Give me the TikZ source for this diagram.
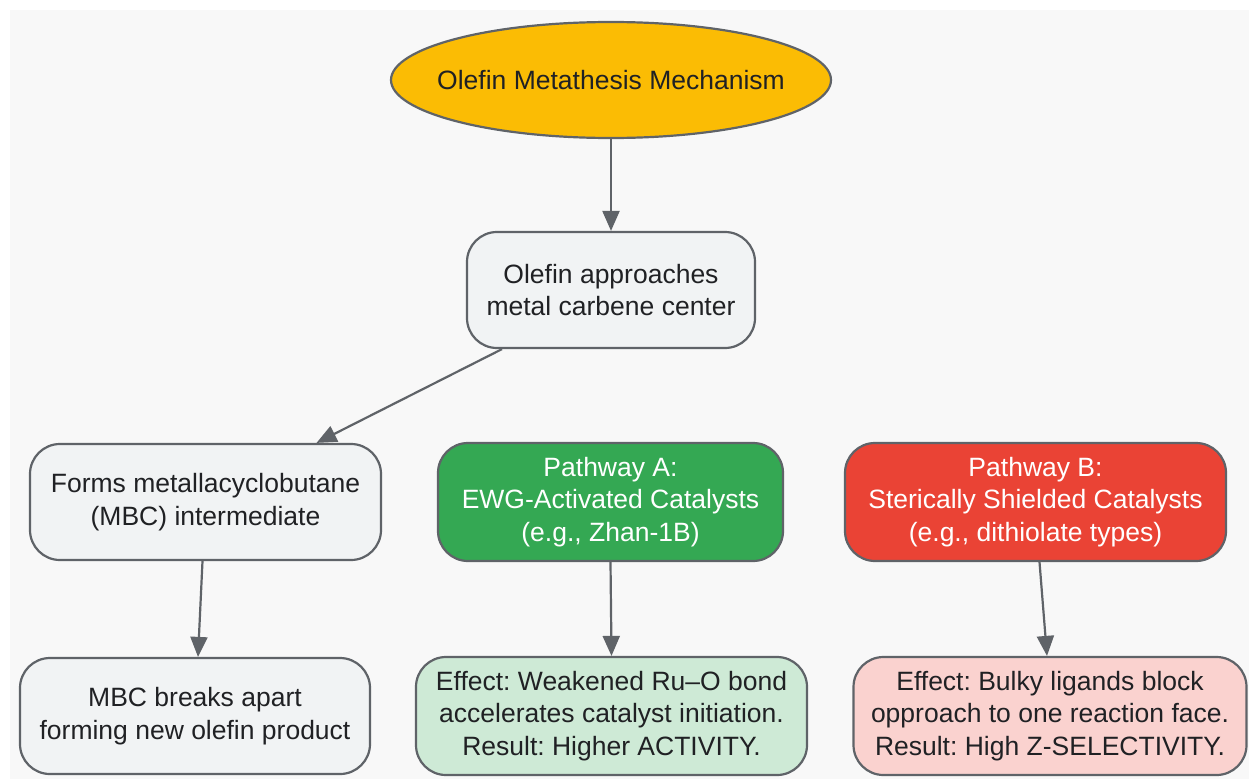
\documentclass[tikz,border=0pt]{standalone}
\usepackage{fontspec}
\setmainfont{Liberation Sans}
\usetikzlibrary{shapes.geometric,arrows.meta,calc}
\definecolor{edgec}{HTML}{5F6368}
\definecolor{txtc}{HTML}{202124}
\definecolor{bgc}{HTML}{F8F8F8}
\definecolor{yelc}{HTML}{FBBC04}
\definecolor{greyfill}{HTML}{F1F3F4}
\definecolor{greenc}{HTML}{34A853}
\definecolor{redc}{HTML}{EA4335}
\definecolor{lgreen}{HTML}{CEEAD6}
\definecolor{lpink}{HTML}{FAD2CF}
\frenchspacing
\begin{document}
\begin{tikzpicture}[x=1pt,y=-1pt,
  box/.style={draw=edgec, line width=2.2pt, rounded corners=30pt, align=center,
    font=\fontsize{26.5}{32.5}\selectfont, text=txtc, inner sep=0pt},
  arr/.style={draw=edgec, line width=2.2pt, -{Triangle[length=20pt,width=17pt]}}]
\useasboundingbox (0,0) rectangle (1249,779);
\fill[white] (0,0) rectangle (1249,779);
\fill[bgc] (10,10) rectangle (1249,779);

\node[ellipse, draw=edgec, fill=yelc, line width=2.2pt, minimum width=440pt, minimum height=116pt,
  inner xsep=-30pt, inner ysep=0pt, text=txtc, font=\fontsize{26.5}{32}\selectfont] (top) at (611,80) {Olefin Metathesis Mechanism};

\node[box, fill=greyfill, minimum width=288pt, minimum height=116pt] (b2) at (611,290)
  {Olefin approaches\\metal carbene center};

\node[box, fill=greyfill, minimum width=351pt, minimum height=116pt] (b3) at (205.5,502)
  {Forms metallacyclobutane\\(MBC) intermediate};

\node[box, fill=greenc, text=white, minimum width=345pt, minimum height=118pt] (b4) at (610.5,502)
  {Pathway A:\\EWG-Activated Catalysts\\(e.g., Zhan-1B)};

\node[box, fill=redc, text=white, minimum width=381pt, minimum height=118pt] (b5) at (1035.5,502)
  {Pathway B:\\Sterically Shielded Catalysts\\(e.g., dithiolate types)};

\node[box, fill=greyfill, minimum width=350pt, minimum height=116pt] (b6) at (195,716)
  {MBC breaks apart\\forming new olefin product};

\node[box, fill=lgreen, minimum width=391pt, minimum height=118pt] (b7) at (611.5,716)
  {Effect: Weakened Ru--O bond\\accelerates catalyst initiation.\\Result: Higher ACTIVITY.};

\node[box, fill=lpink, minimum width=393pt, minimum height=118pt] (b8) at (1050,716)
  {Effect: Bulky ligands block\\opproach to one reaction face.\\Result: High Z-SELECTIVITY.};

\draw[arr] (top.south) -- (b2.north);
\draw[arr] ([xshift=-109pt]b2.south) -- ([xshift=111pt]b3.north);
\draw[arr] ([xshift=-3pt]b3.south) -- ([xshift=3pt]b6.north);
\draw[arr] (b4.south) -- (b7.north);
\draw[arr] ([xshift=4pt]b5.south) -- ([xshift=-3pt]b8.north);
\end{tikzpicture}
\end{document}
